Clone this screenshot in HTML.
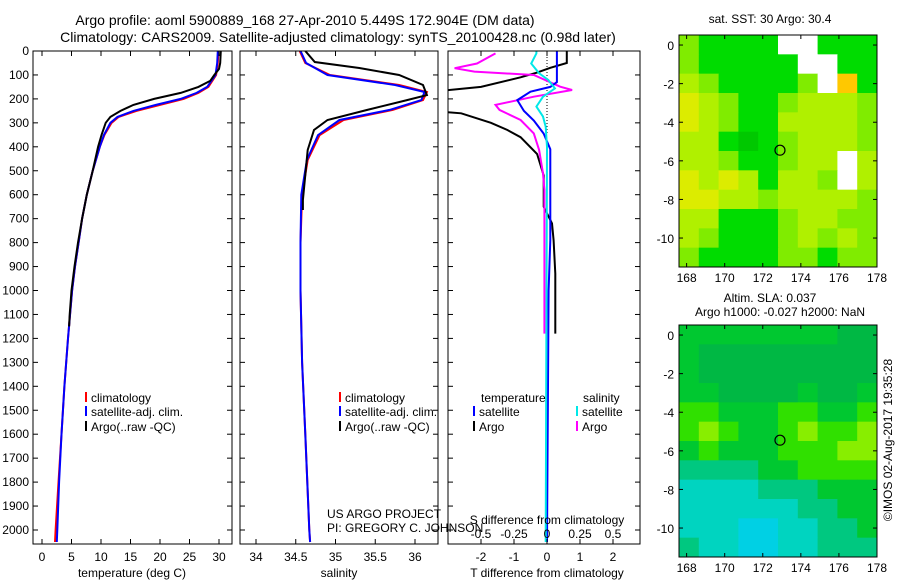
<!DOCTYPE html>
<html><head><meta charset="utf-8"><style>
body{margin:0;background:#fff;width:900px;height:580px;overflow:hidden}
svg{display:block;font-family:"Liberation Sans",sans-serif}
</style></head><body>
<svg id="c" width="900" height="580" viewBox="0 0 900 580">
<text x="305" y="25" font-size="14" text-anchor="middle">Argo profile: aoml 5900889_168 27-Apr-2010 5.449S 172.904E (DM data)</text>
<text x="338" y="42" font-size="14" text-anchor="middle">Climatology: CARS2009. Satellite-adjusted climatology: synTS_20100428.nc (0.98d later)</text>
<text x="770" y="23" font-size="12" text-anchor="middle">sat. SST: 30 Argo: 30.4</text>
<text x="770" y="302" font-size="12" text-anchor="middle">Altim. SLA: 0.037</text>
<text x="780" y="316" font-size="12" text-anchor="middle">Argo h1000: -0.027 h2000: NaN</text>
<text transform="translate(892,440) rotate(-90)" font-size="12" text-anchor="middle">©IMOS 02-Aug-2017 19:35:28</text>
<text x="327" y="518" font-size="12">US ARGO PROJECT</text>
<text x="327" y="532" font-size="12">PI: GREGORY C. JOHNSON</text>
</svg>
<script>
// ---- data ----
const climTDepth=[0,50,100,150,175,200,225,250,275,300,350,400,500,600,700,800,900,1000,1200,1400,1600,1800,2000,2050];
const climT=[29.9,29.8,29.5,28.2,26.5,24,20,16,13,11.8,10.6,9.8,8.6,7.6,6.8,6.2,5.6,5.1,4.4,3.8,3.3,2.8,2.3,2.2];
const satT=[29.8,29.7,29.4,28.0,26.2,23.5,19.3,15.5,12.8,11.6,10.5,9.8,8.6,7.6,6.8,6.2,5.6,5.1,4.4,3.8,3.3,2.9,2.6,2.5];
const argoTDepth=[0,50,75,100,125,150,175,200,225,250,275,300,350,400,500,600,700,800,900,1000,1100,1150];
const argoT=[30.3,30.2,30,29.2,28.5,26.5,23.5,19,15.5,13.3,11.6,10.8,10.1,9.5,8.6,7.6,6.8,6.1,5.5,5.0,4.7,4.6];
const climSDepth=[0,50,100,142,171,205,246,288,351,455,600,800,1000,1300,1600,2000,2050];
const climS=[34.55,34.62,34.93,35.8,36.15,36.1,35.72,35.1,34.8,34.65,34.58,34.56,34.56,34.58,34.62,34.67,34.68];
const satS=[34.56,34.63,34.9,35.75,36.12,36.08,35.68,35.05,34.78,34.64,34.57,34.56,34.56,34.58,34.62,34.67,34.68];
const argoSDepth=[0,46,71,100,142,184,205,246,288,330,413,622,664];
const argoS=[34.62,34.74,35.3,35.8,36.1,36.15,35.9,35.4,34.9,34.73,34.65,34.59,34.59];
const dTArgoDepth=[0,50,70,90,110,150,170,250,260,300,330,360,430,520,650,720,790,930,1180];
const dTArgo=[0.6,0.6,0.1,-0.3,-0.8,-2.0,-3.5,-3.5,-2.6,-1.7,-1.2,-0.8,-0.3,-0.1,-0.1,0.15,0.2,0.25,0.25];
const dTSatDepth=[0,130,150,170,205,250,290,345,410,790,1000,2050];
const dTSat=[0.3,0.3,0.1,-0.5,-0.9,-0.7,-0.4,-0.1,0.1,0.1,0.05,0.0];
const dSArgoDepth=[10,52,72,86,100,149,163,191,225,246,288,344,413,511,580,1180];
const dSArgo=[-0.39,-0.53,-0.7,-0.55,-0.1,0.1,0.19,-0.1,-0.39,-0.36,-0.2,-0.1,-0.06,-0.03,-0.02,-0.02];
const dSSatDepth=[0,10,52,93,121,156,191,232,274,316,400,2050];
const dSSat=[-0.08,-0.08,-0.12,-0.06,0.01,0.06,-0.03,-0.08,-0.03,-0.01,0,-0.01];
const depthTicks=[0,100,200,300,400,500,600,700,800,900,1000,1100,1200,1300,1400,1500,1600,1700,1800,1900,2000];
const tempTicks=[0,5,10,15,20,25,30];
const salTicks=[34,34.5,35,35.5,36];
const dTTicks=[-2,-1,0,1,2];
const dSTicks=[-0.5,-0.25,0,0.25,0.5];
const lonTicks=[168,170,172,174,176,178];
const latTicks=[0,-2,-4,-6,-8,-10];
const sstGrid=[
[2,1,1,1,1,-1,-1,1,1,1],
[2,1,1,1,1,1,-1,-1,1,1],
[3,2,1,1,1,1,2,-1,5,1],
[4,3,2,1,1,2,3,3,3,2],
[4,3,2,1,1,3,3,3,3,2],
[3,3,1,0,1,2,3,3,3,2],
[3,3,2,1,1,2,3,3,-1,3],
[4,3,4,3,1,3,3,2,-1,3],
[4,4,3,3,2,3,3,3,3,2],
[3,3,1,1,1,2,3,3,2,2],
[3,2,1,1,1,2,3,2,3,2],
[2,1,1,1,1,2,2,1,2,2]];
const slaGrid=[
[1,1,1,1,1,1,1,1,0,0],
[1,0,0,0,0,0,0,0,0,0],
[1,0,0,0,0,0,0,0,0,0],
[1,1,0,0,0,0,1,0,0,1],
[2,2,1,1,1,2,2,1,1,2],
[2,3,2,1,1,2,3,2,2,3],
[1,2,1,1,1,2,2,2,3,3],
[4,4,4,4,1,1,2,2,2,2],
[5,5,5,5,4,4,4,1,1,1],
[5,5,5,5,5,5,4,4,1,1],
[5,5,5,6,6,5,5,4,4,1],
[4,5,5,6,6,5,5,4,4,4]];
const floatLon=172.904, floatLat=-5.449;
// ---- drawing ----
const svg=document.getElementById('c');
const NS='http://www.w3.org/2000/svg';
function mk(tag,attrs,parent){const e=document.createElementNS(NS,tag);for(const k in attrs)e.setAttribute(k,attrs[k]);(parent||svg).appendChild(e);return e;}
const TOP=51,BOT=544;
const yD=d=>TOP+d*0.2395;
const xT=t=>42+t*5.9;
const xS=s=>256+(s-34)*79.5;
const xDT=v=>547+v*33;
const xDS=v=>547+v*132;
const panels=[{x0:33,x1:232,n:'temperature'},{x0:240,x1:438,n:'salinity'},{x0:448,x1:640,n:'difference'}];
panels.forEach((p,i)=>{
  const cp=mk('clipPath',{id:'cp'+i});
  mk('rect',{x:p.x0,y:TOP,width:p.x1-p.x0,height:BOT-TOP},cp);
});
function line(depths,vals,fx,color,clip,name,w){
  const pts=depths.map((d,i)=>fx(vals[i]).toFixed(1)+','+yD(d).toFixed(1)).join(' ');
  const e=mk('polyline',{points:pts,fill:'none',stroke:color,'stroke-width':w||2,'clip-path':'url(#cp'+clip+')'});
  
  
}
line(climTDepth,climT,xT,'#ff0000',0,'temp-climatology-line');
line(climTDepth,satT,xT,'#0000ff',0,'temp-satellite-line');
line(argoTDepth,argoT,xT,'#000000',0,'temp-argo-line');
line(climSDepth,climS,xS,'#ff0000',1,'sal-climatology-line');
line(climSDepth,satS,xS,'#0000ff',1,'sal-satellite-line');
line(argoSDepth,argoS,xS,'#000000',1,'sal-argo-line');
const zl=mk('line',{x1:xDT(0),x2:xDT(0),y1:yD(0),y2:yD(350),stroke:'#000','stroke-dasharray':'1,2'});


line(dTArgoDepth,dTArgo,xDT,'#000000',2,'dT-argo-line');
line(dSArgoDepth,dSArgo,xDS,'#ff00ff',2,'dS-argo-line');
line(dTSatDepth,dTSat,xDT,'#0000ff',2,'dT-satellite-line');
line(dSSatDepth,dSSat,xDS,'#00e8e8',2,'dS-satellite-line');
function txt(x,y,s,anchor,name,size){const e=mk('text',{x:x,y:y,'font-size':size||12,'text-anchor':anchor||'start'});e.textContent=s;return e;}
panels.forEach((p,i)=>{
  const r=mk('rect',{x:p.x0,y:TOP,width:p.x1-p.x0,height:BOT-TOP,fill:'none',stroke:'#000','stroke-width':1});
  
  
  depthTicks.forEach(d=>{
    mk('line',{x1:p.x0,x2:p.x0+5,y1:yD(d),y2:yD(d),stroke:'#000'});
    mk('line',{x1:p.x1,x2:p.x1-5,y1:yD(d),y2:yD(d),stroke:'#000'});
  });
});
depthTicks.forEach(d=>txt(29,yD(d)+4,String(d),'end','depth-tick-label'));
tempTicks.forEach(t=>{mk('line',{x1:xT(t),x2:xT(t),y1:BOT,y2:BOT-5,stroke:'#000'});mk('line',{x1:xT(t),x2:xT(t),y1:TOP,y2:TOP+5,stroke:'#000'});txt(xT(t),561,String(t),'middle','temp-tick-label');});
salTicks.forEach(t=>{mk('line',{x1:xS(t),x2:xS(t),y1:BOT,y2:BOT-5,stroke:'#000'});mk('line',{x1:xS(t),x2:xS(t),y1:TOP,y2:TOP+5,stroke:'#000'});txt(xS(t),561,String(t),'middle','sal-tick-label');});
dTTicks.forEach(t=>{mk('line',{x1:xDT(t),x2:xDT(t),y1:BOT,y2:BOT-5,stroke:'#000'});txt(xDT(t),561,String(t),'middle','dT-tick-label');});
dSTicks.forEach(t=>{mk('line',{x1:xDS(t),x2:xDS(t),y1:TOP,y2:TOP+5,stroke:'#000'});txt(xDS(t),538,String(t),'middle','dS-tick-label');});
txt(132,577,'temperature (deg C)','middle','temp-axis-title');
txt(339,577,'salinity','middle','sal-axis-title');
txt(547,577,'T difference from climatology','middle','dT-axis-title');
txt(547,524,'S difference from climatology','middle','dS-axis-title');
function leg(x,y,color,label,name){
  const l=mk('line',{x1:x,x2:x,y1:y-10,y2:y,stroke:color,'stroke-width':2});
  
  
  txt(x+5,y,label,'start',name);
}
leg(86,402,'#ff0000','climatology','legend-temp-clim');
leg(86,416,'#0000ff','satellite-adj. clim.','legend-temp-sat');
leg(86,431,'#000000','Argo(..raw -QC)','legend-temp-argo');
leg(340,402,'#ff0000','climatology','legend-sal-clim');
leg(340,416,'#0000ff','satellite-adj. clim.','legend-sal-sat');
leg(340,431,'#000000','Argo(..raw -QC)','legend-sal-argo');
txt(481,402,'temperature','start','legend-temperature-header');
txt(583,402,'salinity','start','legend-salinity-header');
leg(474,416,'#0000ff','satellite','legend-dT-sat');
leg(474,431,'#000000','Argo','legend-dT-argo');
leg(577,416,'#00e8e8','satellite','legend-dS-sat');
leg(577,431,'#ff00ff','Argo','legend-dS-argo');
// maps
const sstColors=['#00c800','#00dc00','#80ec00','#b0f000','#dcec00','#ffc800'];
const slaColors=['#00b844','#00c830','#30e000','#88ee00','#00c880','#00d4c0','#00d0e4'];
function drawMap(y0,latTop,grid,colors,name){
  const X0=679,X1=877,lonMin=167.6,lonMax=178,yPerDeg=19.3,H=232;
  const xL=l=>X0+(l-lonMin)/(lonMax-lonMin)*(X1-X0);
  const yL=l=>y0+(latTop-l)*yPerDeg;
  const g=mk('g',{});
  
  
  const cw=(X1-X0)/grid[0].length, ch=H/grid.length;
  grid.forEach((row,r)=>row.forEach((v,c)=>{
    const cell=mk('rect',{x:X0+c*cw,y:y0+r*ch,width:cw+0.5,height:ch+0.5,fill:v<0?'#ffffff':colors[v]},g);
    
    
  }));
  mk('rect',{x:X0,y:y0,width:X1-X0,height:H,fill:'none',stroke:'#000'},g);
  lonTicks.forEach(l=>{mk('line',{x1:xL(l),x2:xL(l),y1:y0+H,y2:y0+H-4,stroke:'#000'},g);mk('line',{x1:xL(l),x2:xL(l),y1:y0,y2:y0+4,stroke:'#000'},g);txt(xL(l),y0+H+15,String(l),'middle',name+'-lon-label');});
  latTicks.forEach(l=>{mk('line',{x1:X0,x2:X0+4,y1:yL(l),y2:yL(l),stroke:'#000'},g);mk('line',{x1:X1,x2:X1-4,y1:yL(l),y2:yL(l),stroke:'#000'},g);txt(674,yL(l)+5,String(l),'end',name+'-lat-label');});
  const c=mk('circle',{cx:xL(floatLon),cy:yL(floatLat),r:5,fill:'none',stroke:'#000','stroke-width':1.2},g);
  
  
}
drawMap(35,0.52,sstGrid,sstColors,'sst-map');
drawMap(325,0.52,slaGrid,slaColors,'sla-map');
</script>
</body></html>
